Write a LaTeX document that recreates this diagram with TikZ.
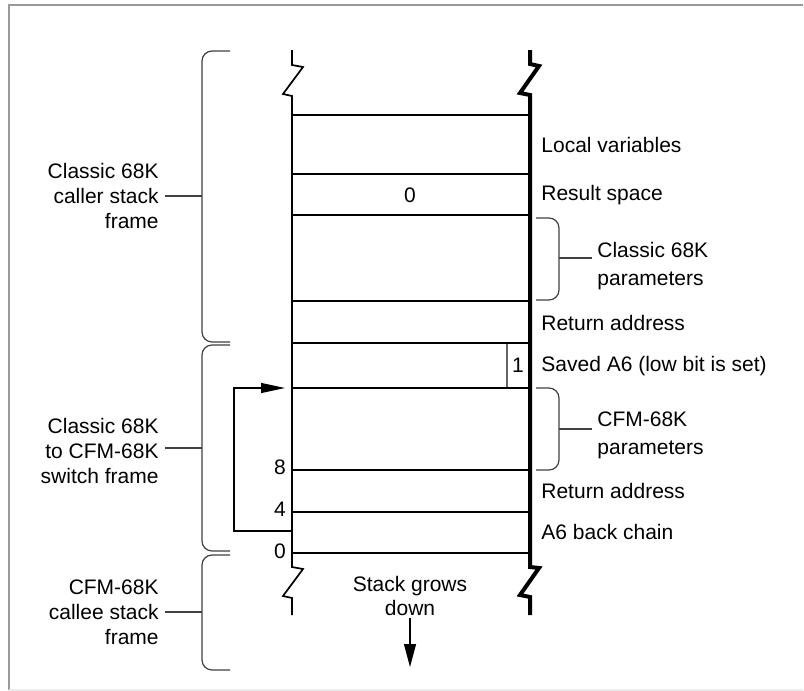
\documentclass[tikz,border=0pt]{standalone}
\usepackage{fontspec}
\setmainfont{Liberation Sans}
\usetikzlibrary{arrows.meta}
\begin{document}
\begin{tikzpicture}[x=0.5pt,y=-0.5pt,
  rowline/.style={draw=black,line width=0.6pt},
  leftwall/.style={draw=black,line width=0.85pt,miter limit=3},
  rightwall/.style={draw=black,line width=2pt,miter limit=3},
  bracepath/.style={draw=black!75,line width=0.6pt,rounded corners=5pt},
  txt/.style={inner sep=0pt,font=\fontsize{10.5}{14}\selectfont},
  leftlbl/.style={inner sep=0pt,align=right,anchor=east,font=\fontsize{10.5}{12.4}\selectfont},
  rightlbl/.style={inner sep=0pt,align=left,anchor=west,font=\fontsize{10.5}{14}\selectfont},
  bigtip/.style={-{Triangle[length=12pt,width=5pt]}}
]
\useasboundingbox (0,0) rectangle (804,691);
% frame
\draw[black!40,line width=0.6pt] (9,690) -- (9,5) -- (803,5);
\draw[black!8,line width=0.6pt] (9,690) -- (803,690);

% walls of the stack
\draw[leftwall] (292,50) -- (292,65) -- (303,67) -- (283,94) -- (292,96) -- (292,567) -- (303,569) -- (283,596) -- (292,598) -- (292,615);
\draw[rightwall] (530,50) -- (530,64) -- (539,66) -- (520,93) -- (530,95) -- (530,567) -- (539,568) -- (520,595) -- (530,597) -- (530,615);

% rows
\foreach \yy in {115,174,215,301,343,388,470,512}
  \draw[rowline] (292,\yy) -- (529,\yy);
\draw[draw=black,line width=1.1pt] (292,553) -- (529,553);
\draw[black!60,line width=0.6pt] (507,344) -- (507,387);

% texts in the stack
\node[txt] (zero) at (410,195) {0};
\node[txt] (one) at (518,365) {1};
\node[txt] (n8) at (280,467) {8};
\node[txt] (n4) at (280,509) {4};
\node[txt] (n0) at (280,551) {0};

% right labels
\node[rightlbl] (locvar) at (541,145) {Local variables};
\node[rightlbl] (result) at (541,195) {Result space};
\node[rightlbl] (ret1) at (541,323) {Return address};
\node[rightlbl] (saved) at (541,366) {Saved A6 (low bit is set)};
\node[rightlbl] (ret2) at (541,491) {Return address};
\node[rightlbl] (backch) at (541,532) {A6 back chain};
\node[rightlbl] (cparams) at (597,266) {Classic 68K\\parameters};
\node[rightlbl] (fparams) at (597,435) {CFM-68K\\parameters};

% right braces
\draw[bracepath] (536,218) -- (559,218) -- (559,300) -- (536,300);
\draw[black!75,line width=0.6pt] (559,258) -- ([xshift=-2.5pt]cparams.west |- 0,258);
\draw[bracepath] (536,388) -- (559,388) -- (559,470) -- (536,470);
\draw[black!75,line width=0.6pt] (559,429) -- ([xshift=-2.5pt]fparams.west |- 0,429);

% left labels
\node[leftlbl] (caller) at (159,196) {Classic 68K\\caller stack\\frame};
\node[leftlbl] (switch) at (159,451) {Classic 68K\\to CFM-68K\\switch frame};
\node[leftlbl] (callee) at (159,612) {CFM-68K\\callee stack\\frame};

% left braces
\draw[bracepath] (230,51) -- (202,51) -- (202,342) -- (230,342);
\draw[black!75,line width=0.6pt] (202,196) -- ([xshift=3pt]caller.east |- 0,196);
\draw[bracepath] (230,345) -- (202,345) -- (202,551) -- (230,551);
\draw[black!75,line width=0.6pt] (202,448) -- ([xshift=3pt]switch.east |- 0,448);
\draw[bracepath] (230,555) -- (202,555) -- (202,670) -- (230,670);
\draw[black!75,line width=0.6pt] (202,612) -- ([xshift=3pt]callee.east |- 0,612);

% back chain loop arrow
\coordinate (chainstart) at (292,531);
\coordinate (chainend) at (285,388);
\draw[black,line width=0.6pt,bigtip] (chainstart) -- (234,531) -- (234,388) -- (chainend);

% stack grows down
\node[txt,align=center,font=\fontsize{10.5}{12}\selectfont] (grows) at (410,596) {Stack grows\\down};
\coordinate (growend) at (410,667);
\draw[black,line width=0.6pt,-{Triangle[length=11.5pt,width=6pt]}] (grows.south |- 0,618) -- (growend);
\end{tikzpicture}
\end{document}
